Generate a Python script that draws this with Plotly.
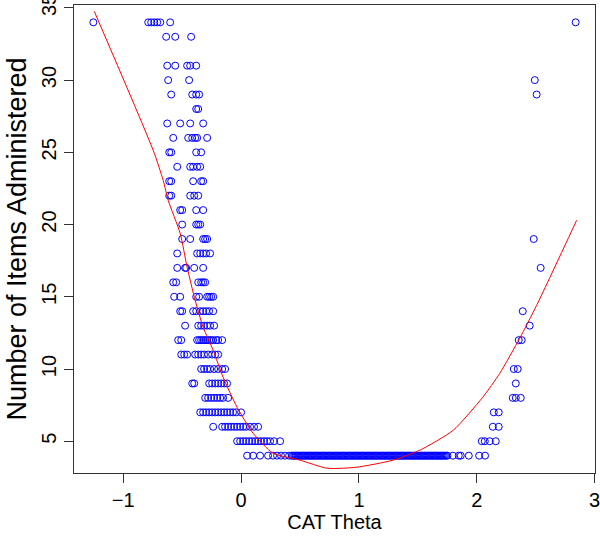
import plotly.graph_objects as go

# Number of items administered (row levels) and CAT theta values at each level
levels = [34, 33, 31, 30, 29, 28, 27, 26, 25, 24, 23, 22, 21, 20, 19, 18, 17,
          16, 15, 14, 13, 12, 11, 10, 9, 8, 7, 6, 5, 4]

theta_at_level = [
    [-1.254, -0.788, -0.763, -0.737, -0.712, -0.686, -0.602, 2.839],
    [-0.636, -0.559, -0.424],
    [-0.627, -0.559, -0.458, -0.432, -0.381],
    [-0.619, -0.441, 2.492],
    [-0.593, -0.415, -0.381, -0.356, 2.508],
    [-0.381, -0.364],
    [-0.627, -0.517, -0.432, -0.322],
    [-0.576, -0.449, -0.415, -0.390, -0.373, -0.288],
    [-0.610, -0.593, -0.381, -0.339],
    [-0.542, -0.432, -0.407, -0.373, -0.347],
    [-0.610, -0.593, -0.407, -0.339, -0.322],
    [-0.610, -0.593, -0.432, -0.398, -0.364],
    [-0.517, -0.500, -0.381, -0.322],
    [-0.500, -0.381, -0.364, -0.347],
    [-0.500, -0.432, -0.322, -0.305, -0.288, 2.483],
    [-0.542, -0.373, -0.347, -0.322, -0.297, -0.263],
    [-0.542, -0.475, -0.466, -0.398, -0.322, 2.542],
    [-0.576, -0.551, -0.364, -0.339, -0.322, -0.305],
    [-0.568, -0.517, -0.381, -0.356, -0.288, -0.271, -0.254, -0.237],
    [-0.517, -0.500, -0.407, -0.381, -0.347, -0.322, -0.297, -0.271, -0.237, 2.390],
    [-0.475, -0.364, -0.339, -0.314, -0.288, -0.263, -0.229, 2.449],
    [-0.534, -0.508, -0.373, -0.356, -0.339, -0.322, -0.305, -0.288, -0.271,
     -0.254, -0.237, -0.212, -0.195, -0.161, 2.356, 2.381],
    [-0.508, -0.483, -0.458, -0.390, -0.364, -0.339, -0.314, -0.280, -0.246,
     -0.220, -0.195],
    [-0.339, -0.314, -0.288, -0.263, -0.229, -0.195, -0.161, -0.136, 2.314, 2.347],
    [-0.415, -0.398, -0.271, -0.246, -0.220, -0.195, -0.169, -0.144, -0.119, 2.331],
    [-0.305, -0.280, -0.254, -0.229, -0.203, -0.178, -0.153, -0.110, 2.305, 2.331, 2.373],
    [-0.347, -0.322, -0.297, -0.271, -0.246, -0.220, -0.195, -0.169, -0.144,
     -0.119, -0.093, -0.068, -0.042, 0.000, 2.144, 2.186],
    [-0.237, -0.161, -0.136, -0.110, -0.085, -0.059, -0.034, -0.008, 0.017,
     0.042, 0.076, 0.110, 0.144, 2.136, 2.186],
    [-0.034, -0.008, 0.017, 0.042, 0.068, 0.093, 0.119, 0.144, 0.169, 0.195,
     0.220, 0.246, 0.280, 0.331, 2.042, 2.068, 2.110, 2.161],
    [0.051, 0.102, 0.161, 0.229, 0.271, 0.305, 0.339, 0.373, 0.407, 0.43,
     0.44, 0.45, 0.46, 0.47, 0.48, 0.49, 0.50, 0.51, 0.52, 0.53, 0.54, 0.55,
     0.56, 0.57, 0.58, 0.59, 0.60, 0.61, 0.62, 0.63, 0.64, 0.65, 0.66, 0.67,
     0.68, 0.69, 0.70, 0.71, 0.72, 0.73, 0.74, 0.75, 0.76, 0.77, 0.78, 0.79,
     0.80, 0.81, 0.82, 0.83, 0.84, 0.85, 0.86, 0.87, 0.88, 0.89, 0.90, 0.91,
     0.92, 0.93, 0.94, 0.95, 0.96, 0.97, 0.98, 0.99, 1.00, 1.01, 1.02, 1.03,
     1.04, 1.05, 1.06, 1.07, 1.08, 1.09, 1.10, 1.11, 1.12, 1.13, 1.14, 1.15,
     1.16, 1.17, 1.18, 1.19, 1.20, 1.21, 1.22, 1.23, 1.24, 1.25, 1.26, 1.27,
     1.28, 1.29, 1.30, 1.31, 1.32, 1.33, 1.34, 1.35, 1.36, 1.37, 1.38, 1.39,
     1.40, 1.41, 1.42, 1.43, 1.44, 1.45, 1.46, 1.47, 1.48, 1.49, 1.50, 1.51,
     1.52, 1.53, 1.54, 1.55, 1.56, 1.57, 1.58, 1.59, 1.60, 1.61, 1.62, 1.63,
     1.64, 1.65, 1.66, 1.67, 1.68, 1.69, 1.70, 1.71, 1.72, 1.73, 1.74, 1.75,
     1.797, 1.847, 1.864, 1.932, 2.02, 2.07],
]

# Smoothed (loess-like) trend
curve_theta = [-1.246, -0.746, -0.661, -0.619, -0.517, -0.458, -0.390, -0.322,
               -0.237, -0.153, -0.034, 0.102, 0.271, 0.50, 0.73, 0.98, 1.29,
               1.517, 1.80, 2.05, 2.195, 2.364, 2.508, 2.847]
curve_items = [34.76, 25.14, 23.06, 21.68, 19.39, 17.04, 14.76, 12.89, 11.30,
               9.43, 7.35, 5.55, 4.17, 3.69, 3.13, 3.20, 3.69, 4.38, 5.76,
               8.04, 9.70, 12.13, 14.41, 20.29]

x_ticks = [-1, 0, 1, 2, 3]
y_ticks = [5, 10, 15, 20, 25, 30, 35]

xs, ys = [], []
for lv, th in zip(levels, theta_at_level):
    xs.extend(th)
    ys.extend([lv] * len(th))

FONT = "Liberation Sans, Arial, sans-serif"

fig = go.Figure()
fig.add_trace(go.Scatter(
    x=xs, y=ys, mode="markers",
    marker=dict(symbol="circle-open", size=7, color="#0000FF",
                line=dict(width=1, color="#0000FF")),
    showlegend=False, hoverinfo="skip", cliponaxis=False))
fig.add_trace(go.Scatter(
    x=curve_theta, y=curve_items, mode="lines",
    line=dict(color="#FF0000", width=1, shape="spline", smoothing=0.6),
    showlegend=False, hoverinfo="skip"))

fig.update_layout(
    template="none",
    width=600, height=540,
    margin=dict(l=74, r=5, t=5, b=67, autoexpand=False),
    paper_bgcolor="white", plot_bgcolor="white",
    font=dict(family=FONT, color="black", size=20),
    xaxis=dict(
        range=[-1.418, 3.003], tickvals=x_ticks,
        ticks="outside", ticklen=9, tickwidth=1, tickcolor="#333",
        showline=True, mirror=True, linecolor="#333", linewidth=1,
        showgrid=False, zeroline=False, automargin=False,
        ticklabeloverflow="allow",
        tickfont=dict(size=20),
        title=dict(text="CAT Theta", font=dict(size=20), standoff=4),
    ),
    yaxis=dict(
        range=[2.8, 35.2], tickvals=y_ticks,
        tickangle=-90,
        ticks="outside", ticklen=9, tickwidth=1, tickcolor="#333",
        showline=True, mirror=True, linecolor="#333", linewidth=1,
        showgrid=False, zeroline=False, automargin=False,
        ticklabeloverflow="allow", ticklabelstandoff=0,
        tickfont=dict(size=20),
        title=dict(text="Number of Items Administered", font=dict(size=27), standoff=3),
    ),
)

fig.write_html("out.html",
               config={"displayModeBar": False},
               post_script="document.body.style.margin='0';"
                           "document.body.style.overflow='hidden';")
